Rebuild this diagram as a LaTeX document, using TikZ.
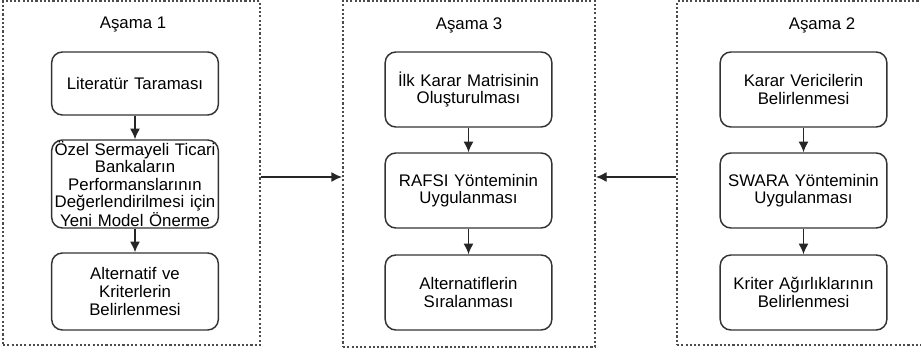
\documentclass[tikz,border=0pt]{standalone}
\usepackage{fontspec}
\setmainfont{Liberation Sans}
\usepackage{tikz}
\usetikzlibrary{calc,arrows.meta}

\tikzset{
	stagebox/.style={draw=black!70, line width=1.5pt, dash pattern=on 1.6pt off 1.6pt},
	stepbox/.style={draw=black!80, line width=1.1pt, rounded corners=8pt, align=center, text width=124pt, minimum width=124.5pt, inner sep=0.5pt, font=\fontsize{12.6}{13.2}\selectfont},
	flow/.style={-{Latex[length=8pt,width=7.5pt]}, line width=1pt, black!85}
}

\begin{document}
\begin{tikzpicture}[x=0.75pt, y=-0.75pt]
\useasboundingbox (0,0) rectangle (921,360);
% stage frames
\node[stagebox, minimum width=192.75pt, minimum height=258pt](s1) at (131.5,173){};
\node[stagebox, minimum width=189pt, minimum height=259.5pt](s3) at (469,174){};
\node[stagebox, minimum width=192pt, minimum height=258pt](s2) at (805,173){};
\node[font=\fontsize{12.6}{13.2}\selectfont](t1) at (133,25){Aşama 1};
\node[font=\fontsize{12.6}{13.2}\selectfont](t3) at (469,25){Aşama 3};
\node[font=\fontsize{12.6}{13.2}\selectfont](t2) at (822,25){Aşama 2};
% stage 1
\node[stepbox, minimum height=47.25pt](lit) at (135,83.5){Literatür Taraması};
\node[stepbox, minimum height=66pt](ozel) at (135,184){Özel Sermayeli Ticari\\Bankaların\\Performanslarının\\Değerlendirilmesi için\\Yeni Model Önerme};
\node[stepbox, minimum height=57.75pt](alt) at (135,291.5){Alternatif ve\\Kriterlerin\\Belirlenmesi};
% stage 3
\node[stepbox, minimum height=56.25pt](ilk) at (468.5,89.5){İlk Karar Matrisinin\\Oluşturulması};
\node[stepbox, minimum height=56.25pt](rafsi) at (468.5,190.5){RAFSI Yönteminin\\Uygulanması};
\node[stepbox, minimum height=56.25pt](sira) at (468.5,292.5){Alternatiflerin\\Sıralanması};
% stage 2
\node[stepbox, minimum height=56.25pt](karar) at (803.5,89.5){Karar Vericilerin\\Belirlenmesi};
\node[stepbox, minimum height=56.25pt](swara) at (803.5,190.5){SWARA Yönteminin\\Uygulanması};
\node[stepbox, minimum height=56.25pt](agir) at (803.5,292.5){Kriter Ağırlıklarının\\Belirlenmesi};
% arrows
\draw[flow] (lit)--(ozel);
\draw[flow] (ozel)--(alt);
\draw[flow] (ilk)--(rafsi);
\draw[flow] (rafsi)--(sira);
\draw[flow] (karar)--(swara);
\draw[flow] (swara)--(agir);
\draw[flow] ($(s1.east)+(0,4)$)--($(s3.west)+(0,3)$);
\draw[flow] ($(s2.west)+(0,4)$)--($(s3.east)+(0,3)$);
\end{tikzpicture}
\end{document}
